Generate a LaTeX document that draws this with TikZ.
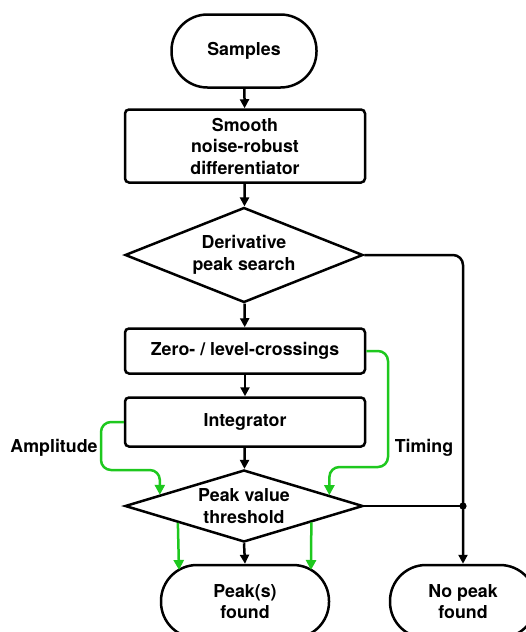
\documentclass[tikz,border=0pt]{standalone}
\usepackage{fontspec}
\setmainfont{TeX Gyre Heros}
\usetikzlibrary{shapes.geometric,arrows.meta,calc}
\definecolor{flowgreen}{RGB}{30,200,30}
\begin{document}
\begin{tikzpicture}[x=1pt,y=-1pt,
  every node/.style={font=\fontsize{17.8}{21.5}\selectfont\bfseries, align=center},
  box/.style={draw, line width=2.5pt, rounded corners=4pt, minimum width=240pt, inner sep=0pt},
  term/.style={draw, line width=2.5pt, rounded corners=36pt, minimum height=73pt, inner sep=0pt},
  dec/.style={draw, diamond, line width=2.5pt, shape aspect=3.3, inner sep=0pt, minimum width=238pt},
  arr/.style={line width=2.5pt, -{Triangle[length=9pt,width=9pt]}},
  garr/.style={line width=2.5pt, draw=flowgreen, -{Triangle[length=10pt,width=10pt]}, rounded corners=10pt},
  link/.style={line width=2.5pt}]
\useasboundingbox (0,0) rectangle (526,632);

\node[term, minimum width=145pt] (samples) at (244,51) {Samples};
\node[box, minimum height=73pt] (smooth) at (245,146) {Smooth\\noise-robust\\differentiator};
\node[dec, minimum height=95pt] (deriv) at (244,255) {Derivative\\peak search};
\node[box, minimum height=45pt] (zero) at (245,351) {Zero- / level-crossings};
\node[box, minimum height=49pt] (integ) at (245,422) {Integrator};
\node[dec, minimum height=72pt] (peakv) at (244,506) {Peak value\\threshold};
\node[term, minimum width=168pt] (found) at (245,601.5) {Peak(s)\\found};
\node[term, minimum width=146pt] (nopeak) at (463,601.5) {No peak\\found};

\node (amp) at (54,448) {Amplitude};
\node (timing) at (424,448) {Timing};

\draw[arr] (samples) -- (smooth);
\draw[arr] (smooth) -- (deriv);
\draw[arr] (deriv) -- (zero);
\draw[arr] (zero) -- (integ);
\draw[arr] (integ) -- (peakv);
\draw[arr] (peakv.south) -- (found.north);
\draw[arr, rounded corners=10pt] (deriv.east) -| (nopeak.north);

\coordinate (junc) at (nopeak.north |- peakv.east);
\draw[link] (peakv.east) -- (junc);
\fill (junc) circle (3.6pt);

% green connectors
\coordinate (tEnd) at ($(peakv.north)!0.71!(peakv.east)$);
\coordinate (aEnd) at ($(peakv.north)!0.70!(peakv.west)$);
\draw[garr] (zero.east) -- (388,351) -- (388,467) -- (tEnd |- 0,467) -- (tEnd);
\draw[garr] (integ.west) -- (101,422) -- (101,470) -- (aEnd |- 0,470) -- (aEnd);

\coordinate (g1) at ($(peakv.south)!0.55!(peakv.west)$);
\coordinate (g2) at ($(peakv.south)!0.56!(peakv.east)$);
\coordinate (f1) at (179,570);
\coordinate (f2) at (311,570);
\draw[garr] (g1) -- (f1);
\draw[garr] (g2) -- (f2);
\end{tikzpicture}
\end{document}
